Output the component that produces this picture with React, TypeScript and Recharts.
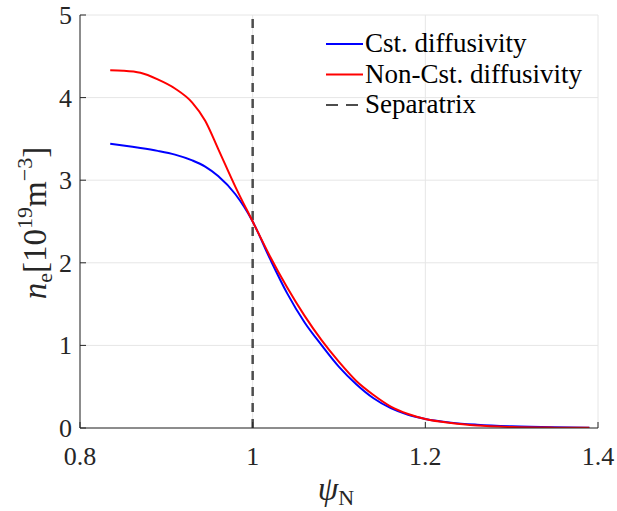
import React from 'react';
import { LineChart, Line, XAxis, YAxis, CartesianGrid, ReferenceLine, Label } from 'recharts';

const psi = [0.835, 0.85, 0.87, 0.89, 0.91, 0.93, 0.945, 0.96, 0.98, 1.0, 1.02, 1.04, 1.06, 1.08, 1.1, 1.12, 1.14, 1.16, 1.18, 1.2, 1.23, 1.26, 1.3, 1.35, 1.39];
const cstDiffusivity = [3.44, 3.42, 3.39, 3.355, 3.31, 3.24, 3.165, 3.05, 2.83, 2.5, 2.05, 1.63, 1.28, 1.0, 0.74, 0.53, 0.36, 0.24, 0.16, 0.11, 0.065, 0.04, 0.02, 0.008, 0.004];
const nonCstDiffusivity = [4.33, 4.325, 4.3, 4.22, 4.11, 3.94, 3.72, 3.38, 2.92, 2.5, 2.08, 1.7, 1.36, 1.06, 0.8, 0.57, 0.4, 0.26, 0.17, 0.11, 0.06, 0.03, 0.012, 0.004, 0.002];
const xTicks = [0.8, 1.0, 1.2, 1.4];
const xTickLabels = ['0.8', '1', '1.2', '1.4'];
const yTicks = [0, 1, 2, 3, 4, 5];
const separatrix = 1.0;
const legendNames = ['Cst. diffusivity', 'Non-Cst. diffusivity', 'Separatrix'];

const rows = psi.map((x, i) => ({ psi: x, cst: cstDiffusivity[i], non: nonCstDiffusivity[i] }));

const FONT = '"Liberation Serif", "Times New Roman", "DejaVu Serif", serif';
const AX = '#262626';
const TICK_FS = 26;

const BottomTick = (p: any) => {
  const { x, y, payload } = p;
  const idx = xTicks.indexOf(payload.value);
  return (
    <g>
      <line x1={x} x2={x} y1={y} y2={y - 6} stroke={AX} strokeWidth={1} />
      <text x={x} y={y + 37} textAnchor="middle" fontFamily={FONT} fontSize={TICK_FS} fill={AX}>
        {idx >= 0 ? xTickLabels[idx] : String(payload.value)}
      </text>
    </g>
  );
};
const TopTick = (p: any) => {
  const { x, y } = p;
  return <line x1={x} x2={x} y1={y} y2={y + 6} stroke={AX} strokeWidth={1} />;
};
const LeftTick = (p: any) => {
  const { x, y, payload } = p;
  return (
    <g>
      <line x1={x} x2={x + 6} y1={y} y2={y} stroke={AX} strokeWidth={1} />
      <text x={x - 8} y={y + 9} textAnchor="end" fontFamily={FONT} fontSize={TICK_FS} fill={AX}>
        {String(payload.value)}
      </text>
    </g>
  );
};
const RightTick = (p: any) => {
  const { x, y } = p;
  return <line x1={x} x2={x - 6} y1={y} y2={y} stroke={AX} strokeWidth={1} />;
};

const XLabel = () => (
  <text x={336} y={500} textAnchor="middle" fontFamily={FONT} fontSize={33} fill={AX}>
    <tspan fontStyle="italic">ψ</tspan>
    <tspan fontSize={22} dy={5}>N</tspan>
  </text>
);
const YLabel = () => (
  <text x={0} y={0} transform="translate(46,223) rotate(-90)" textAnchor="middle" fontFamily={FONT} fontSize={33} fill={AX}>
    <tspan fontStyle="italic">n</tspan>
    <tspan fontSize={22} dy={6}>e</tspan>
    <tspan dy={-6}>[10</tspan>
    <tspan fontSize={22} dy={-14}>19</tspan>
    <tspan dy={14}>m</tspan>
    <tspan fontSize={22} dy={-14}>−3</tspan>
    <tspan dy={14}>]</tspan>
  </text>
);

const legendItems = [
  { name: legendNames[0], color: '#0000ff', dash: undefined as string | undefined },
  { name: legendNames[1], color: '#ff0000', dash: undefined as string | undefined },
  { name: legendNames[2], color: '#4d4d4d', dash: '12 8' },
];

const LegendOverlay = () => (
  <svg width={280} height={100} style={{ position: 'absolute', left: 326, top: 28, display: 'block' }}>
    {legendItems.map((it, i) => {
      const cy = 16 + i * 30.5;
      return (
        <g key={it.name}>
          <line x1={0} x2={37} y1={cy} y2={cy} stroke={it.color} strokeWidth={2} strokeDasharray={it.dash} />
          <text x={39} y={cy + 8} fontFamily={FONT} fontSize={27} fill="#000">{it.name}</text>
        </g>
      );
    })}
  </svg>
);

export default function App() {
  return (
    <div style={{ position: 'absolute', left: 0, top: 0, width: 617, height: 511, background: '#fff' }}>
      <LineChart width={617} height={511} data={rows} margin={{ top: 15, right: 19, bottom: 0, left: 0 }}>
        <CartesianGrid stroke="#e6e6e6" strokeWidth={1} xAxisId="b" yAxisId="l" />
        <XAxis xAxisId="b" dataKey="psi" type="number" domain={[0.8, 1.4]} ticks={xTicks} allowDataOverflow
          height={83} tickSize={0} tickMargin={0} tickLine={false} axisLine={{ stroke: AX, strokeWidth: 1 }} tick={<BottomTick />} interval={0}>
          <Label content={<XLabel />} />
        </XAxis>
        <XAxis xAxisId="t" orientation="top" dataKey="psi" type="number" domain={[0.8, 1.4]} ticks={xTicks} allowDataOverflow
          height={0} tickSize={0} tickMargin={0} tickLine={false} axisLine={{ stroke: AX, strokeWidth: 1 }} tick={<TopTick />} interval={0} />
        <YAxis yAxisId="l" type="number" domain={[0, 5]} ticks={yTicks} allowDataOverflow width={80}
          tickSize={0} tickMargin={0} tickLine={false} axisLine={{ stroke: AX, strokeWidth: 1 }} tick={<LeftTick />} interval={0}>
          <Label content={<YLabel />} />
        </YAxis>
        <YAxis yAxisId="r" orientation="right" type="number" domain={[0, 5]} ticks={yTicks} allowDataOverflow width={0}
          tickSize={0} tickMargin={0} tickLine={false} axisLine={{ stroke: AX, strokeWidth: 1 }} tick={<RightTick />} interval={0} />
        <ReferenceLine xAxisId="b" yAxisId="l" x={separatrix} stroke="#4d4d4d" strokeWidth={2.5} strokeDasharray="9 7" />
        <Line xAxisId="b" yAxisId="l" type="monotone" dataKey="cst" name={legendNames[0]} stroke="#0000ff" strokeWidth={2} dot={false} isAnimationActive={false} />
        <Line xAxisId="b" yAxisId="l" type="monotone" dataKey="non" name={legendNames[1]} stroke="#ff0000" strokeWidth={2} dot={false} isAnimationActive={false} />
      </LineChart>
      <LegendOverlay />
    </div>
  );
}
